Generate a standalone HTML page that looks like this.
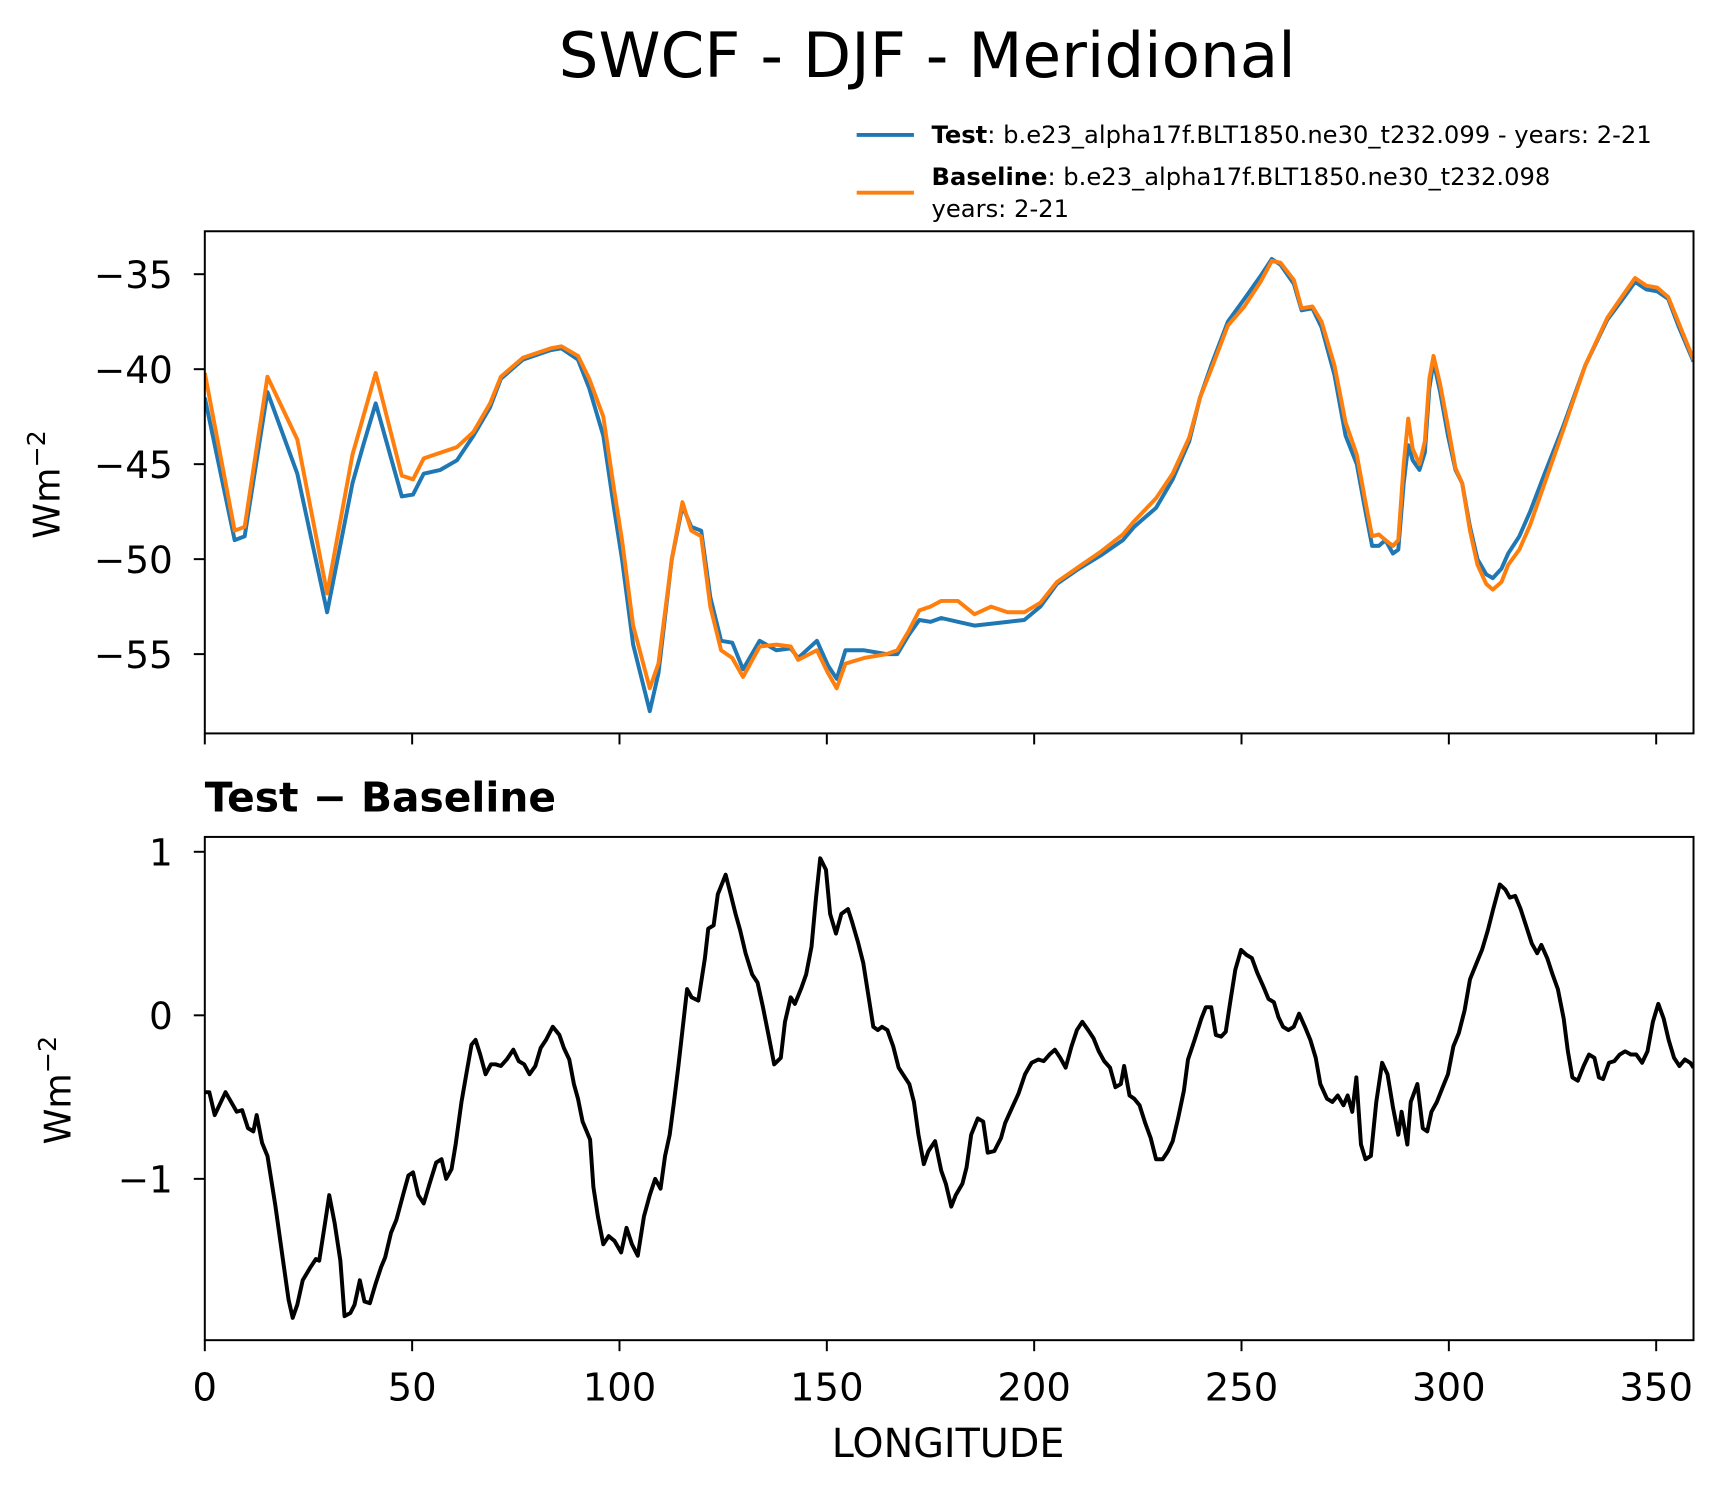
<!DOCTYPE html>
<html><head><meta charset="utf-8"><style>
html,body{margin:0;padding:0;background:#fff;}
svg{display:block;font-family:"DejaVu Sans","Liberation Sans",sans-serif;}
</style></head><body>
<svg id="chart" width="1726" height="1496" viewBox="0 0 1567.5 1358.5" preserveAspectRatio="none" xmlns="http://www.w3.org/2000/svg">
<rect width="1567.5" height="1358.5" fill="#fff"/>
<text x="842" y="70" font-size="57" text-anchor="middle" fill="#000">SWCF - DJF - Meridional</text>
<g>
<line x1="778" y1="122.5" x2="830" y2="122.5" stroke="#1f77b4" stroke-width="3.5"/>
<text x="846" y="130" font-size="22"><tspan font-weight="bold">Test</tspan>: b.e23_alpha17f.BLT1850.ne30_t232.099 - years: 2-21</text>
<line x1="778" y1="175" x2="830" y2="175" stroke="#ff7f0e" stroke-width="3.5"/>
<text x="846" y="168" font-size="22"><tspan font-weight="bold">Baseline</tspan>: b.e23_alpha17f.BLT1850.ne30_t232.098</text>
<text x="846" y="197" font-size="22">years: 2-21</text>
</g>
<g id="top"></g>
<g id="bot"></g>
<text x="186" y="737" font-size="37" font-weight="bold">Test − Baseline</text>
<text x="861" y="1323" font-size="36" text-anchor="middle">LONGITUDE</text>
<text transform="translate(54,440) rotate(-90)" font-size="33" text-anchor="middle">Wm<tspan dy="-13" font-size="23">−2</tspan></text>
<text transform="translate(64,990) rotate(-90)" font-size="33" text-anchor="middle">Wm<tspan dy="-13" font-size="23">−2</tspan></text>
</svg>
<script>
const topLon=[0,7.2,9.6,15.1,22.3,29.5,35.6,38.2,41.2,47.5,50.2,52.8,56.8,60.8,64.8,68.8,71.4,76.7,83.4,86,90,92.7,96.1,98.8,100.6,103.3,107.3,109.4,112.6,115.2,117.3,119.7,121.9,124.5,127.2,129.8,133.8,137.8,141.3,143.1,147.6,150.3,152.4,154.5,159,164.4,167,169.7,172.3,175,177.6,181.6,185.6,189.6,193.6,197.6,201.5,205.5,210.8,216.1,221.4,224.1,229.4,233.4,237.4,240,242.7,246.7,250.7,254.6,257.3,259.4,262.6,264.5,267.1,269.3,272.4,275.1,277.8,279.9,281.5,283.1,284.7,286.5,287.8,289.1,290.2,291.3,292.9,294.2,295.3,296.3,297.9,299.8,301.6,303.2,305.1,306.9,309,310.6,312.7,314.3,317,319.6,323.1,327.6,332.9,338.2,342.3,344.9,347.6,350.2,352.9,355.5,359];
const testVals=[-41.5,-49,-48.8,-41.2,-45.5,-52.8,-46,-44,-41.8,-46.7,-46.6,-45.5,-45.3,-44.8,-43.5,-42,-40.5,-39.5,-39,-38.9,-39.5,-41,-43.5,-47.5,-50,-54.5,-58,-56,-50,-47.2,-48.3,-48.5,-52,-54.3,-54.4,-55.8,-54.3,-54.8,-54.7,-55.2,-54.3,-55.6,-56.3,-54.8,-54.8,-55,-55,-54,-53.2,-53.3,-53.1,-53.3,-53.5,-53.4,-53.3,-53.2,-52.5,-51.3,-50.5,-49.8,-49,-48.3,-47.3,-45.8,-43.8,-41.5,-39.8,-37.5,-36.3,-35.1,-34.2,-34.5,-35.5,-36.9,-36.8,-37.8,-40.3,-43.5,-45,-47.5,-49.3,-49.3,-49,-49.7,-49.5,-46,-44,-44.8,-45.3,-44.4,-41,-39.6,-41.2,-43.5,-45.3,-46,-48.3,-50,-50.8,-51,-50.5,-49.7,-48.8,-47.5,-45.5,-43,-39.8,-37.4,-36.2,-35.4,-35.8,-35.9,-36.3,-37.8,-39.6];
const baseVals=[-40.2,-48.5,-48.3,-40.4,-43.7,-51.8,-44.5,-42.5,-40.2,-45.6,-45.8,-44.7,-44.4,-44.1,-43.3,-41.8,-40.4,-39.4,-38.9,-38.8,-39.3,-40.5,-42.5,-46.5,-49,-53.5,-56.8,-55.5,-50,-47,-48.5,-48.8,-52.5,-54.8,-55.2,-56.2,-54.6,-54.5,-54.6,-55.3,-54.8,-56,-56.8,-55.5,-55.2,-55,-54.8,-53.8,-52.7,-52.5,-52.2,-52.2,-52.9,-52.5,-52.8,-52.8,-52.3,-51.2,-50.4,-49.6,-48.7,-48,-46.8,-45.5,-43.6,-41.5,-40,-37.7,-36.7,-35.4,-34.3,-34.4,-35.3,-36.8,-36.7,-37.5,-39.8,-42.8,-44.5,-47,-48.8,-48.7,-49,-49.3,-49,-45,-42.6,-44.2,-45,-43.8,-40.5,-39.3,-40.8,-43,-45.2,-46,-48.5,-50.3,-51.3,-51.6,-51.2,-50.3,-49.5,-48.2,-46,-43.2,-39.8,-37.3,-36,-35.2,-35.6,-35.7,-36.2,-37.6,-39.5];
const diffLon=[0,1.1,2.4,5.0,7.7,9.0,10.4,11.7,12.5,13.8,15.1,17.0,19.1,20.2,21.2,22.3,23.6,25.5,26.8,27.6,29.0,30.0,31.3,32.7,33.7,35.1,36.1,37.4,38.5,39.8,41.2,42.5,43.5,44.9,46.2,47.8,49.1,50.2,51.5,52.8,54.2,55.8,57.1,58.2,59.5,60.5,61.9,63.2,64.3,65.3,66.4,67.7,69.0,70.1,71.4,72.8,74.4,75.7,77.0,78.3,79.7,81.0,82.3,83.9,85.5,86.6,87.9,89.0,90.0,91.1,92.1,92.9,93.7,94.8,96.1,97.4,98.8,100.4,101.7,103.0,104.4,105.9,107.3,108.6,109.9,111.0,112.1,113.1,114.2,115.2,116.3,117.4,119.0,120.6,121.4,122.7,123.7,125.6,126.7,128.0,129.1,130.4,132.0,133.3,134.6,136.0,137.3,138.9,139.9,141.3,142.3,143.9,145.0,146.3,147.4,148.4,149.8,150.8,152.2,153.5,155.1,156.1,157.5,158.8,160.1,161.2,162.3,163.3,164.6,166.0,167.3,168.6,169.9,171.0,172.1,173.4,174.5,176.1,177.6,178.7,180.0,181.1,182.7,183.7,184.8,186.4,187.7,188.8,190.4,192.0,193.0,194.4,196.2,197.8,199.4,201.0,202.3,203.7,205.0,206.3,207.6,209.0,210.3,211.6,213.0,214.3,215.6,216.9,218.3,219.6,220.9,221.7,223.0,224.1,225.4,226.8,228.1,229.4,231.0,232.3,233.4,234.7,236.1,237.1,238.7,240.3,241.4,242.7,243.8,245.1,246.2,247.2,248.5,249.9,251.2,252.5,253.8,255.2,256.5,257.8,258.9,260.0,261.3,262.6,263.9,265.3,266.6,267.9,269.0,270.6,271.9,273.2,274.6,275.6,276.7,277.7,278.8,279.9,281.2,282.5,283.9,285.2,286.5,287.8,288.6,290.0,290.8,292.4,293.7,294.8,295.8,297.1,298.5,299.8,301.1,302.4,303.8,305.1,306.7,308.0,309.4,310.7,312.3,313.6,314.7,316.0,317.3,318.6,320.0,321.3,322.3,323.7,325.0,326.3,327.7,328.7,329.8,331.1,332.5,333.8,335.1,336.2,337.2,338.6,339.9,341.2,342.5,343.9,345.2,346.6,347.9,349.2,350.5,351.8,353.0,354.3,355.6,356.9,358.2,359.0];
const diffVals=[-0.47,-0.47,-0.61,-0.47,-0.59,-0.58,-0.69,-0.71,-0.61,-0.78,-0.86,-1.16,-1.54,-1.74,-1.85,-1.77,-1.62,-1.54,-1.49,-1.50,-1.27,-1.10,-1.27,-1.50,-1.84,-1.82,-1.77,-1.62,-1.75,-1.76,-1.64,-1.54,-1.48,-1.33,-1.25,-1.10,-0.98,-0.96,-1.10,-1.15,-1.03,-0.90,-0.88,-1.00,-0.94,-0.79,-0.53,-0.34,-0.18,-0.15,-0.24,-0.36,-0.30,-0.30,-0.31,-0.27,-0.21,-0.28,-0.30,-0.36,-0.31,-0.20,-0.15,-0.07,-0.12,-0.20,-0.27,-0.42,-0.51,-0.65,-0.71,-0.76,-1.05,-1.23,-1.40,-1.35,-1.38,-1.45,-1.30,-1.40,-1.47,-1.23,-1.10,-1.00,-1.06,-0.86,-0.73,-0.54,-0.31,-0.09,0.16,0.11,0.09,0.35,0.53,0.55,0.74,0.86,0.75,0.62,0.52,0.38,0.25,0.20,0.05,-0.13,-0.30,-0.26,-0.04,0.11,0.07,0.17,0.25,0.42,0.72,0.96,0.89,0.62,0.50,0.62,0.65,0.57,0.45,0.32,0.11,-0.07,-0.09,-0.07,-0.09,-0.19,-0.32,-0.37,-0.42,-0.53,-0.73,-0.91,-0.83,-0.77,-0.95,-1.03,-1.17,-1.10,-1.03,-0.93,-0.73,-0.63,-0.65,-0.84,-0.83,-0.75,-0.66,-0.58,-0.48,-0.36,-0.29,-0.27,-0.28,-0.24,-0.21,-0.26,-0.32,-0.19,-0.09,-0.04,-0.09,-0.14,-0.22,-0.28,-0.32,-0.44,-0.42,-0.31,-0.49,-0.51,-0.55,-0.66,-0.75,-0.88,-0.88,-0.83,-0.77,-0.63,-0.46,-0.27,-0.15,-0.02,0.05,0.05,-0.12,-0.13,-0.10,0.07,0.28,0.40,0.37,0.35,0.26,0.18,0.10,0.08,-0.01,-0.07,-0.09,-0.07,0.01,-0.07,-0.15,-0.26,-0.42,-0.51,-0.53,-0.49,-0.55,-0.49,-0.59,-0.38,-0.79,-0.88,-0.86,-0.53,-0.29,-0.36,-0.56,-0.73,-0.59,-0.79,-0.53,-0.42,-0.69,-0.71,-0.59,-0.53,-0.44,-0.36,-0.19,-0.11,0.03,0.22,0.32,0.40,0.52,0.65,0.80,0.77,0.72,0.73,0.65,0.55,0.44,0.38,0.43,0.35,0.25,0.16,-0.02,-0.22,-0.38,-0.40,-0.31,-0.24,-0.26,-0.38,-0.39,-0.29,-0.28,-0.24,-0.22,-0.24,-0.24,-0.29,-0.22,-0.04,0.07,-0.02,-0.15,-0.26,-0.31,-0.27,-0.29,-0.32];
const xTicks=[0,50,100,150,200,250,300,350];
const topYTicks=[-35,-40,-45,-50,-55];
const botYTicks=[1,0,-1];

const NS='http://www.w3.org/2000/svg';
const L=186,R=1538,TT=210,TB=666,BT=760,BB=1217;
const xs=v=>L+v*3.766;
const yTop=v=>249+(-35-v)*17.25;
const yBot=v=>922-v*148.5;
function mk(tag,attrs,parent){const e=document.createElementNS(NS,tag);for(const k in attrs)e.setAttribute(k,attrs[k]);parent.appendChild(e);return e;}
const fmt=v=>(v<0?'−':'')+Math.abs(v);
function panel(g,top,bot,yf,yt,name,showX){
  const clipId=name+'-clip';
  const cp=mk('clipPath',{id:clipId},g);mk('rect',{x:L,y:top,width:R-L,height:bot-top},cp);
  for(const t of xTicks){const x=xs(t);
    const tk=mk('line',{x1:x,x2:x,y1:bot,y2:bot+10,stroke:'#000','stroke-width':1.8},g);
    
    
    if(showX){const tx=mk('text',{x:x,y:bot+55,'font-size':35,'text-anchor':'middle'},g);tx.textContent=t;
      
      }
  }
  for(const t of yt){const y=yf(t);
    const tk=mk('line',{x1:L-10,x2:L,y1:y,y2:y,stroke:'#000','stroke-width':1.8},g);
    
    
    const tx=mk('text',{x:157,y:y+12.5,'font-size':34,'text-anchor':'end'},g);tx.textContent=fmt(t);
    
    
  }
  return clipId;
}
function line(g,lon,vals,yf,color,clip,name){
  const d=lon.map((l,i)=>(i?'L':'M')+xs(l).toFixed(1)+','+yf(vals[i]).toFixed(1)).join('');
  const p=mk('path',{d:d,fill:'none',stroke:color,'stroke-width':3.6,'stroke-linejoin':'round','clip-path':'url(#'+clip+')'},g);
  
  
}
const gt=document.getElementById('top'),gb=document.getElementById('bot');
const c1=panel(gt,TT,TB,yTop,topYTicks,'top',false);
line(gt,topLon,testVals,yTop,'#1f77b4',c1,'test-line');
line(gt,topLon,baseVals,yTop,'#ff7f0e',c1,'baseline-line');
const f1=mk('rect',{x:L,y:TT,width:R-L,height:TB-TT,fill:'none',stroke:'#000','stroke-width':1.8},gt);


const c2=panel(gb,BT,BB,yBot,botYTicks,'bottom',true);
line(gb,diffLon,diffVals,yBot,'#000',c2,'difference-line');
const f2=mk('rect',{x:L,y:BT,width:R-L,height:BB-BT,fill:'none',stroke:'#000','stroke-width':1.8},gb);


</script>
</body></html>
